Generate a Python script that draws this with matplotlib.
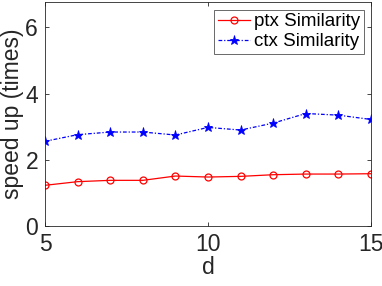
import matplotlib
matplotlib.use("Agg")
import matplotlib.pyplot as plt

# data
d = [5, 6, 7, 8, 9, 10, 11, 12, 13, 14, 15]
ptx = [1.23, 1.34, 1.38, 1.38, 1.51, 1.48, 1.50, 1.55, 1.57, 1.57, 1.58]
ctx = [2.56, 2.76, 2.84, 2.84, 2.75, 2.98, 2.90, 3.11, 3.40, 3.35, 3.22]
xticks = [5, 10, 15]
yticks = [0, 2, 4, 6]

plt.rcParams['font.family'] = ['Liberation Sans', 'DejaVu Sans']
grey = "#262626"

fig = plt.figure(figsize=(3.82, 2.86), dpi=100)
ax = fig.add_axes([45 / 382, 60 / 286, 326 / 382, 224 / 286])

ax.plot(d, ptx, color="red", lw=0.9, marker="o", ms=5, mfc="none", mew=0.9,
        label="ptx Similarity")
ax.plot(d, ctx, color="blue", lw=0.9, ls=(0, (3, 1.5, 1, 1.5)), marker="*",
        ms=6.5, mew=0.6, label="ctx Similarity")

ax.set_xlim(5, 15)
ax.set_ylim(0, 6.77)
ax.set_xticks(xticks)
ax.set_yticks(yticks)
ax.tick_params(direction="in", top=True, right=True, length=3, width=0.6,
               colors=grey, labelsize=16.5, pad=5)
for s in ax.spines.values():
    s.set_color(grey)
    s.set_linewidth(0.6)

ax.set_xlabel("d", fontsize=16.5, color=grey, labelpad=0)
ax.set_ylabel("speed up (times)", fontsize=16.5, color=grey, labelpad=1)

leg = ax.legend(loc="upper right", fontsize=13.5, frameon=True, fancybox=False,
                edgecolor=grey, handlelength=1.7, handletextpad=0.2,
                borderpad=0.2, labelspacing=0.15, borderaxespad=0.4)
leg.get_frame().set_linewidth(0.6)
for t in leg.get_texts():
    t.set_color("black")

fig.savefig("out.png", dpi=100)
